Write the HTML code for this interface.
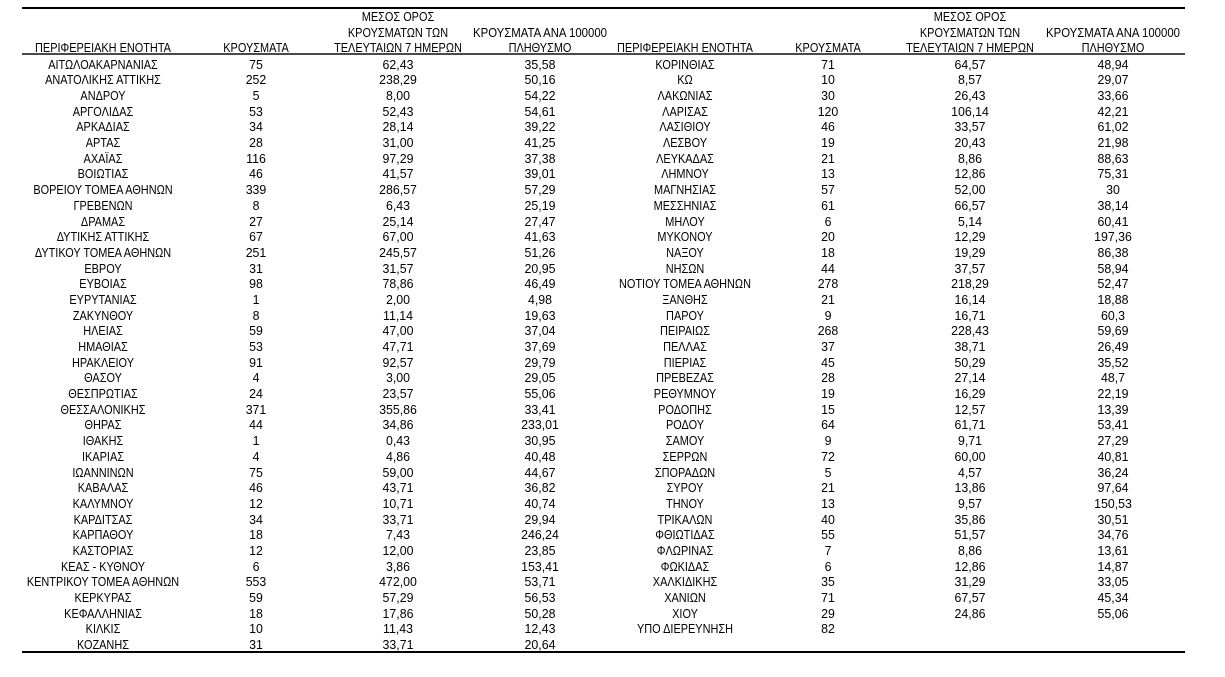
<!DOCTYPE html>
<html><head><meta charset="utf-8">
<style>
html,body{margin:0;padding:0;background:#fff;}
body{width:1225px;height:677px;position:relative;overflow:hidden;font-family:"Liberation Sans","DejaVu Sans",sans-serif;font-size:13px;color:#000;}
.ln{position:absolute;left:22px;width:1163px;}
.blk{position:absolute;left:0;width:1225px;}
.r{position:relative;height:15.69px;line-height:15px;}
.h{position:relative;height:15.5px;line-height:15px;}
.r span,.h span{position:absolute;top:0;white-space:nowrap;transform:translateX(-50%) scaleX(.95);transform-origin:center;}
.r span.t,.h span.t{transform:translateX(-50%) scaleX(.84);}
.h span.u{transform:translateX(-50%) scaleX(.875);}
.a{left:103px}.b{left:256px}.c{left:398px}.d{left:540px}
.e{left:685px}.f{left:828px}.g{left:970px}.k{left:1113px}
</style></head><body>
<div class="ln" style="top:7px;height:1.5px;background:#000"></div>
<div class="ln" style="top:53px;height:2px;background:#4a4a4a"></div>
<div class="ln" style="top:651px;height:1.5px;background:#000"></div>

<div class="blk" style="top:9.2px">
<div class="h"><span class="t c">ΜΕΣΟΣ ΟΡΟΣ</span><span class="t g">ΜΕΣΟΣ ΟΡΟΣ</span></div>
<div class="h"><span class="t c">ΚΡΟΥΣΜΑΤΩΝ ΤΩΝ</span><span class="u d">ΚΡΟΥΣΜΑΤΑ ΑΝΑ 100000</span><span class="t g">ΚΡΟΥΣΜΑΤΩΝ ΤΩΝ</span><span class="u k">ΚΡΟΥΣΜΑΤΑ ΑΝΑ 100000</span></div>
<div class="h"><span class="t a">ΠΕΡΙΦΕΡΕΙΑΚΗ ΕΝΟΤΗΤΑ</span><span class="t b">ΚΡΟΥΣΜΑΤΑ</span><span class="t c">ΤΕΛΕΥΤΑΙΩΝ 7 ΗΜΕΡΩΝ</span><span class="t d">ΠΛΗΘΥΣΜΟ</span><span class="t e">ΠΕΡΙΦΕΡΕΙΑΚΗ ΕΝΟΤΗΤΑ</span><span class="t f">ΚΡΟΥΣΜΑΤΑ</span><span class="t g">ΤΕΛΕΥΤΑΙΩΝ 7 ΗΜΕΡΩΝ</span><span class="t k">ΠΛΗΘΥΣΜΟ</span></div>
</div>

<div class="blk" style="top:56.65px">
<div class="r"><span class="t a">ΑΙΤΩΛΟΑΚΑΡΝΑΝΙΑΣ</span><span class="b">75</span><span class="c">62,43</span><span class="d">35,58</span></div>
<div class="r"><span class="t a">ΑΝΑΤΟΛΙΚΗΣ ΑΤΤΙΚΗΣ</span><span class="b">252</span><span class="c">238,29</span><span class="d">50,16</span></div>
<div class="r"><span class="t a">ΑΝΔΡΟΥ</span><span class="b">5</span><span class="c">8,00</span><span class="d">54,22</span></div>
<div class="r"><span class="t a">ΑΡΓΟΛΙΔΑΣ</span><span class="b">53</span><span class="c">52,43</span><span class="d">54,61</span></div>
<div class="r"><span class="t a">ΑΡΚΑΔΙΑΣ</span><span class="b">34</span><span class="c">28,14</span><span class="d">39,22</span></div>
<div class="r"><span class="t a">ΑΡΤΑΣ</span><span class="b">28</span><span class="c">31,00</span><span class="d">41,25</span></div>
<div class="r"><span class="t a">ΑΧΑΪΑΣ</span><span class="b">116</span><span class="c">97,29</span><span class="d">37,38</span></div>
<div class="r"><span class="t a">ΒΟΙΩΤΙΑΣ</span><span class="b">46</span><span class="c">41,57</span><span class="d">39,01</span></div>
<div class="r"><span class="t a">ΒΟΡΕΙΟΥ ΤΟΜΕΑ ΑΘΗΝΩΝ</span><span class="b">339</span><span class="c">286,57</span><span class="d">57,29</span></div>
<div class="r"><span class="t a">ΓΡΕΒΕΝΩΝ</span><span class="b">8</span><span class="c">6,43</span><span class="d">25,19</span></div>
<div class="r"><span class="t a">ΔΡΑΜΑΣ</span><span class="b">27</span><span class="c">25,14</span><span class="d">27,47</span></div>
<div class="r"><span class="t a">ΔΥΤΙΚΗΣ ΑΤΤΙΚΗΣ</span><span class="b">67</span><span class="c">67,00</span><span class="d">41,63</span></div>
<div class="r"><span class="t a">ΔΥΤΙΚΟΥ ΤΟΜΕΑ ΑΘΗΝΩΝ</span><span class="b">251</span><span class="c">245,57</span><span class="d">51,26</span></div>
<div class="r"><span class="t a">ΕΒΡΟΥ</span><span class="b">31</span><span class="c">31,57</span><span class="d">20,95</span></div>
<div class="r"><span class="t a">ΕΥΒΟΙΑΣ</span><span class="b">98</span><span class="c">78,86</span><span class="d">46,49</span></div>
<div class="r"><span class="t a">ΕΥΡΥΤΑΝΙΑΣ</span><span class="b">1</span><span class="c">2,00</span><span class="d">4,98</span></div>
<div class="r"><span class="t a">ΖΑΚΥΝΘΟΥ</span><span class="b">8</span><span class="c">11,14</span><span class="d">19,63</span></div>
<div class="r"><span class="t a">ΗΛΕΙΑΣ</span><span class="b">59</span><span class="c">47,00</span><span class="d">37,04</span></div>
<div class="r"><span class="t a">ΗΜΑΘΙΑΣ</span><span class="b">53</span><span class="c">47,71</span><span class="d">37,69</span></div>
<div class="r"><span class="t a">ΗΡΑΚΛΕΙΟΥ</span><span class="b">91</span><span class="c">92,57</span><span class="d">29,79</span></div>
<div class="r"><span class="t a">ΘΑΣΟΥ</span><span class="b">4</span><span class="c">3,00</span><span class="d">29,05</span></div>
<div class="r"><span class="t a">ΘΕΣΠΡΩΤΙΑΣ</span><span class="b">24</span><span class="c">23,57</span><span class="d">55,06</span></div>
<div class="r"><span class="t a">ΘΕΣΣΑΛΟΝΙΚΗΣ</span><span class="b">371</span><span class="c">355,86</span><span class="d">33,41</span></div>
<div class="r"><span class="t a">ΘΗΡΑΣ</span><span class="b">44</span><span class="c">34,86</span><span class="d">233,01</span></div>
<div class="r"><span class="t a">ΙΘΑΚΗΣ</span><span class="b">1</span><span class="c">0,43</span><span class="d">30,95</span></div>
<div class="r"><span class="t a">ΙΚΑΡΙΑΣ</span><span class="b">4</span><span class="c">4,86</span><span class="d">40,48</span></div>
<div class="r"><span class="t a">ΙΩΑΝΝΙΝΩΝ</span><span class="b">75</span><span class="c">59,00</span><span class="d">44,67</span></div>
<div class="r"><span class="t a">ΚΑΒΑΛΑΣ</span><span class="b">46</span><span class="c">43,71</span><span class="d">36,82</span></div>
<div class="r"><span class="t a">ΚΑΛΥΜΝΟΥ</span><span class="b">12</span><span class="c">10,71</span><span class="d">40,74</span></div>
<div class="r"><span class="t a">ΚΑΡΔΙΤΣΑΣ</span><span class="b">34</span><span class="c">33,71</span><span class="d">29,94</span></div>
<div class="r"><span class="t a">ΚΑΡΠΑΘΟΥ</span><span class="b">18</span><span class="c">7,43</span><span class="d">246,24</span></div>
<div class="r"><span class="t a">ΚΑΣΤΟΡΙΑΣ</span><span class="b">12</span><span class="c">12,00</span><span class="d">23,85</span></div>
<div class="r"><span class="t a">ΚΕΑΣ - ΚΥΘΝΟΥ</span><span class="b">6</span><span class="c">3,86</span><span class="d">153,41</span></div>
<div class="r"><span class="t a">ΚΕΝΤΡΙΚΟΥ ΤΟΜΕΑ ΑΘΗΝΩΝ</span><span class="b">553</span><span class="c">472,00</span><span class="d">53,71</span></div>
<div class="r"><span class="t a">ΚΕΡΚΥΡΑΣ</span><span class="b">59</span><span class="c">57,29</span><span class="d">56,53</span></div>
<div class="r"><span class="t a">ΚΕΦΑΛΛΗΝΙΑΣ</span><span class="b">18</span><span class="c">17,86</span><span class="d">50,28</span></div>
<div class="r"><span class="t a">ΚΙΛΚΙΣ</span><span class="b">10</span><span class="c">11,43</span><span class="d">12,43</span></div>
<div class="r"><span class="t a">ΚΟΖΑΝΗΣ</span><span class="b">31</span><span class="c">33,71</span><span class="d">20,64</span></div>
</div>

<div class="blk" style="top:56.65px">
<div class="r"><span class="t e">ΚΟΡΙΝΘΙΑΣ</span><span class="f">71</span><span class="g">64,57</span><span class="k">48,94</span></div>
<div class="r"><span class="t e">ΚΩ</span><span class="f">10</span><span class="g">8,57</span><span class="k">29,07</span></div>
<div class="r"><span class="t e">ΛΑΚΩΝΙΑΣ</span><span class="f">30</span><span class="g">26,43</span><span class="k">33,66</span></div>
<div class="r"><span class="t e">ΛΑΡΙΣΑΣ</span><span class="f">120</span><span class="g">106,14</span><span class="k">42,21</span></div>
<div class="r"><span class="t e">ΛΑΣΙΘΙΟΥ</span><span class="f">46</span><span class="g">33,57</span><span class="k">61,02</span></div>
<div class="r"><span class="t e">ΛΕΣΒΟΥ</span><span class="f">19</span><span class="g">20,43</span><span class="k">21,98</span></div>
<div class="r"><span class="t e">ΛΕΥΚΑΔΑΣ</span><span class="f">21</span><span class="g">8,86</span><span class="k">88,63</span></div>
<div class="r"><span class="t e">ΛΗΜΝΟΥ</span><span class="f">13</span><span class="g">12,86</span><span class="k">75,31</span></div>
<div class="r"><span class="t e">ΜΑΓΝΗΣΙΑΣ</span><span class="f">57</span><span class="g">52,00</span><span class="k">30</span></div>
<div class="r"><span class="t e">ΜΕΣΣΗΝΙΑΣ</span><span class="f">61</span><span class="g">66,57</span><span class="k">38,14</span></div>
<div class="r"><span class="t e">ΜΗΛΟΥ</span><span class="f">6</span><span class="g">5,14</span><span class="k">60,41</span></div>
<div class="r"><span class="t e">ΜΥΚΟΝΟΥ</span><span class="f">20</span><span class="g">12,29</span><span class="k">197,36</span></div>
<div class="r"><span class="t e">ΝΑΞΟΥ</span><span class="f">18</span><span class="g">19,29</span><span class="k">86,38</span></div>
<div class="r"><span class="t e">ΝΗΣΩΝ</span><span class="f">44</span><span class="g">37,57</span><span class="k">58,94</span></div>
<div class="r"><span class="t e">ΝΟΤΙΟΥ ΤΟΜΕΑ ΑΘΗΝΩΝ</span><span class="f">278</span><span class="g">218,29</span><span class="k">52,47</span></div>
<div class="r"><span class="t e">ΞΑΝΘΗΣ</span><span class="f">21</span><span class="g">16,14</span><span class="k">18,88</span></div>
<div class="r"><span class="t e">ΠΑΡΟΥ</span><span class="f">9</span><span class="g">16,71</span><span class="k">60,3</span></div>
<div class="r"><span class="t e">ΠΕΙΡΑΙΩΣ</span><span class="f">268</span><span class="g">228,43</span><span class="k">59,69</span></div>
<div class="r"><span class="t e">ΠΕΛΛΑΣ</span><span class="f">37</span><span class="g">38,71</span><span class="k">26,49</span></div>
<div class="r"><span class="t e">ΠΙΕΡΙΑΣ</span><span class="f">45</span><span class="g">50,29</span><span class="k">35,52</span></div>
<div class="r"><span class="t e">ΠΡΕΒΕΖΑΣ</span><span class="f">28</span><span class="g">27,14</span><span class="k">48,7</span></div>
<div class="r"><span class="t e">ΡΕΘΥΜΝΟΥ</span><span class="f">19</span><span class="g">16,29</span><span class="k">22,19</span></div>
<div class="r"><span class="t e">ΡΟΔΟΠΗΣ</span><span class="f">15</span><span class="g">12,57</span><span class="k">13,39</span></div>
<div class="r"><span class="t e">ΡΟΔΟΥ</span><span class="f">64</span><span class="g">61,71</span><span class="k">53,41</span></div>
<div class="r"><span class="t e">ΣΑΜΟΥ</span><span class="f">9</span><span class="g">9,71</span><span class="k">27,29</span></div>
<div class="r"><span class="t e">ΣΕΡΡΩΝ</span><span class="f">72</span><span class="g">60,00</span><span class="k">40,81</span></div>
<div class="r"><span class="t e">ΣΠΟΡΑΔΩΝ</span><span class="f">5</span><span class="g">4,57</span><span class="k">36,24</span></div>
<div class="r"><span class="t e">ΣΥΡΟΥ</span><span class="f">21</span><span class="g">13,86</span><span class="k">97,64</span></div>
<div class="r"><span class="t e">ΤΗΝΟΥ</span><span class="f">13</span><span class="g">9,57</span><span class="k">150,53</span></div>
<div class="r"><span class="t e">ΤΡΙΚΑΛΩΝ</span><span class="f">40</span><span class="g">35,86</span><span class="k">30,51</span></div>
<div class="r"><span class="t e">ΦΘΙΩΤΙΔΑΣ</span><span class="f">55</span><span class="g">51,57</span><span class="k">34,76</span></div>
<div class="r"><span class="t e">ΦΛΩΡΙΝΑΣ</span><span class="f">7</span><span class="g">8,86</span><span class="k">13,61</span></div>
<div class="r"><span class="t e">ΦΩΚΙΔΑΣ</span><span class="f">6</span><span class="g">12,86</span><span class="k">14,87</span></div>
<div class="r"><span class="t e">ΧΑΛΚΙΔΙΚΗΣ</span><span class="f">35</span><span class="g">31,29</span><span class="k">33,05</span></div>
<div class="r"><span class="t e">ΧΑΝΙΩΝ</span><span class="f">71</span><span class="g">67,57</span><span class="k">45,34</span></div>
<div class="r"><span class="t e">ΧΙΟΥ</span><span class="f">29</span><span class="g">24,86</span><span class="k">55,06</span></div>
<div class="r"><span class="t e">ΥΠΟ ΔΙΕΡΕΥΝΗΣΗ</span><span class="f">82</span></div>
</div>
</body></html>
